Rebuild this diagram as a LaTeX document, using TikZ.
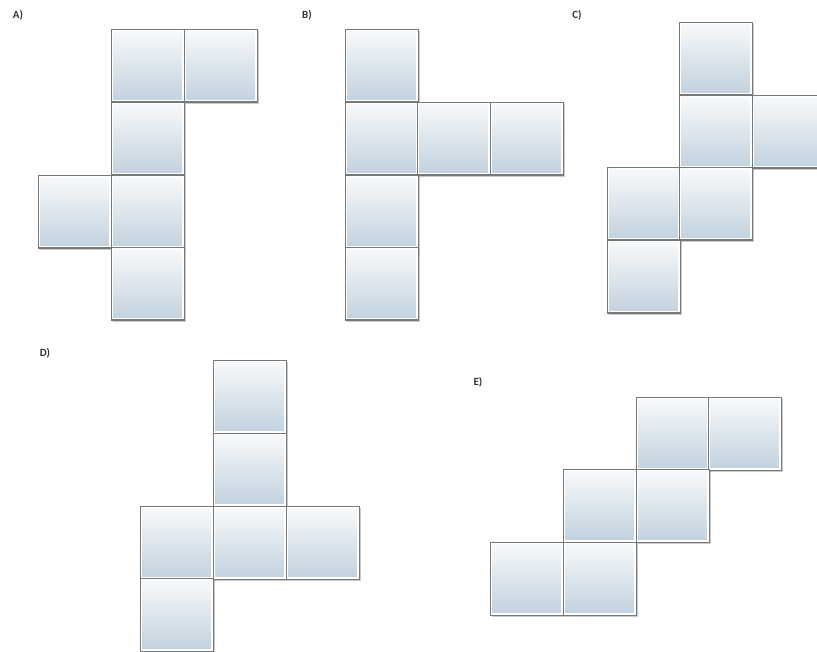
\documentclass[tikz,border=0pt]{standalone}
\usepackage{fontspec}
\setsansfont{Carlito}[BoldFont={Carlito Bold}]
\usetikzlibrary{shadows}
\definecolor{bordo}{RGB}{120,120,120}
\definecolor{fondo}{RGB}{193,209,222}
\definecolor{cima}{RGB}{248,250,251}
\tikzset{
  faccia/.style = {rectangle, draw=bordo, line width=1.2pt, anchor=north west, minimum size=72.5pt, inner sep=0,
                   top color=cima, bottom color=fondo,
                   path picture={\draw[white, line width=3.5pt] (path picture bounding box.south west) rectangle (path picture bounding box.north east);},
                   drop shadow={shadow xshift=1.5pt, shadow yshift=-1.5pt, opacity=0.35, fill=black!60}},
  etichetta/.style = {font=\sffamily\bfseries\fontsize{11}{13}\selectfont, text=black!80, inner sep=0}
}
\begin{document}
\begin{tikzpicture}[x=1pt, y=-1pt]
  \useasboundingbox (0,0) rectangle (817,652);
  % A
  \node[etichetta] (lA) at (18,15) {A)};
  \node[faccia] (a1) at (111,29)  {}; \node[faccia] (a2) at (184,29)  {};
  \node[faccia] (a3) at (111,102) {};
  \node[faccia] (a4) at (38,175)  {}; \node[faccia] (a5) at (111,175) {};
  \node[faccia] (a6) at (111,247) {};
  % B
  \node[etichetta] (lB) at (307,15) {B)};
  \node[faccia] (b1) at (345,29)  {};
  \node[faccia] (b2) at (345,102) {}; \node[faccia] (b3) at (417,102) {}; \node[faccia] (b4) at (490,102) {};
  \node[faccia] (b5) at (345,175) {};
  \node[faccia] (b6) at (345,247) {};
  % C
  \node[etichetta] (lC) at (577,15) {C)};
  \node[faccia] (c1) at (679,22)  {};
  \node[faccia] (c2) at (679,95)  {}; \node[faccia] (c3) at (752,95)  {};
  \node[faccia] (c4) at (607,167) {}; \node[faccia] (c5) at (679,167) {};
  \node[faccia] (c6) at (607,240) {};
  % D
  \node[etichetta] (lD) at (45,353) {D)};
  \node[faccia] (d1) at (213,360) {};
  \node[faccia] (d2) at (213,433) {};
  \node[faccia] (d3) at (140,506) {}; \node[faccia] (d4) at (213,506) {}; \node[faccia] (d5) at (286,506) {};
  \node[faccia] (d6) at (140,578) {};
  % E
  \node[etichetta] (lE) at (478,382) {E)};
  \node[faccia] (e1) at (636,397) {}; \node[faccia] (e2) at (708,397) {};
  \node[faccia] (e3) at (563,469) {}; \node[faccia] (e4) at (636,469) {};
  \node[faccia] (e5) at (490,542) {}; \node[faccia] (e6) at (563,542) {};
\end{tikzpicture}
\end{document}
